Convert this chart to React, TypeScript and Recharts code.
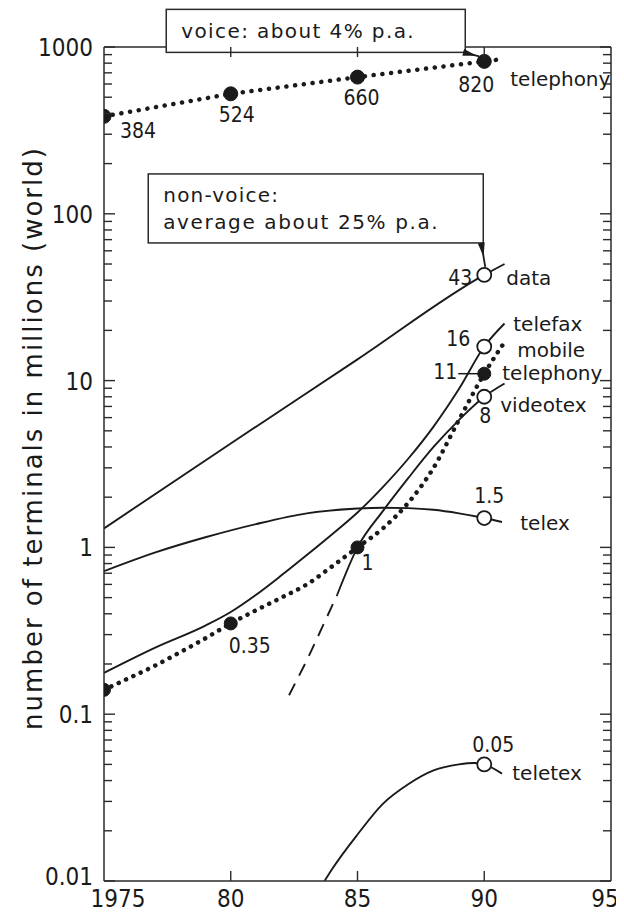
import React from 'react';
import { LineChart, Line, XAxis, YAxis, ReferenceDot } from 'recharts';

// ---------- data (year, millions of terminals) ----------
const voiceTelephonyCurve = [[1975, 384], [1980, 524], [1985, 660], [1990, 820], [1990.8, 850]];
const voiceTelephonyPoints = [[1975, 384], [1980, 524], [1985, 660], [1990, 820]];
const dataCurve = [[1975, 1.3], [1980, 4.2], [1985, 13.4], [1990, 43], [1990.8, 50]];
const telefaxCurve = [[1975, 0.177], [1977, 0.25], [1979, 0.34], [1980, 0.41], [1981, 0.52], [1982, 0.68], [1983, 0.9], [1984, 1.2], [1985, 1.62], [1986, 2.3], [1987, 3.4], [1988, 5.3], [1989, 8.9], [1990, 16], [1990.8, 22]];
const mobileCurve = [[1975, 0.14], [1976, 0.165], [1977, 0.195], [1978, 0.235], [1979, 0.285], [1980, 0.35], [1981, 0.42], [1982, 0.5], [1983, 0.6], [1984, 0.77], [1985, 1], [1986, 1.3], [1987, 1.85], [1988, 3.0], [1989, 5.8], [1990, 11], [1990.8, 17]];
const mobilePoints = [[1975, 0.14], [1980, 0.35], [1985, 1], [1990, 11]];
const videotexEarly = [[1982.3, 0.13], [1983, 0.21], [1983.6, 0.33], [1984.2, 0.52]];
const videotexCurve = [[1984.2, 0.52], [1985, 1], [1986, 1.65], [1987, 2.6], [1988, 4.0], [1989, 5.8], [1990, 8], [1990.8, 9.6]];
const telexCurve = [[1975, 0.72], [1977, 0.93], [1979, 1.15], [1981, 1.38], [1983, 1.6], [1985, 1.71], [1986, 1.73], [1987, 1.72], [1988, 1.68], [1989, 1.6], [1990, 1.5], [1990.7, 1.42]];
const teletexCurve = [[1983.7, 0.01], [1984, 0.0118], [1985, 0.019], [1986, 0.029], [1987, 0.038], [1988, 0.046], [1989, 0.05], [1989.6, 0.051], [1990, 0.05], [1990.7, 0.044]];
const nonVoiceEndpoints = [[1990, 43], [1990, 16], [1990, 8], [1990, 1.5], [1990, 0.05]];

const xTicks = [1975, 1980, 1985, 1990, 1995];
const xTickLabels = ['1975', '80', '85', '90', '95'];
const yDecades = [0.01, 0.1, 1, 10, 100, 1000];
const yDecadeLabels = ['0.01', '0.1', '1', '10', '100', '1000'];
const yMinorSteps = [2, 3, 4, 5, 6, 7, 8, 9];

const yTitle = 'number of terminals in millions (world)';
const voiceBoxText = ['voice: about 4% p.a.'];
const nonVoiceBoxText = ['non-voice:', 'average about 25% p.a.'];

const annotations = [
  { key: 'v384', x: 1975, y: 384, text: '384' },
  { key: 'v524', x: 1980, y: 524, text: '524' },
  { key: 'v660', x: 1985, y: 660, text: '660' },
  { key: 'v820', x: 1990, y: 820, text: '820' },
  { key: 'vTel', x: 1990, y: 820, text: 'telephony' },
  { key: 'd43', x: 1990, y: 43, text: '43' },
  { key: 'dName', x: 1990, y: 43, text: 'data' },
  { key: 'f16', x: 1990, y: 16, text: '16' },
  { key: 'fName', x: 1990, y: 16, text: 'telefax' },
  { key: 'mName', x: 1990, y: 16, text: 'mobile' },
  { key: 'm11', x: 1990, y: 11, text: '11' },
  { key: 'mTel', x: 1990, y: 11, text: 'telephony' },
  { key: 'vt8', x: 1990, y: 8, text: '8' },
  { key: 'vtName', x: 1990, y: 8, text: 'videotex' },
  { key: 'tx15', x: 1990, y: 1.5, text: '1.5' },
  { key: 'txName', x: 1990, y: 1.5, text: 'telex' },
  { key: 'm1', x: 1985, y: 1, text: '1' },
  { key: 'm035', x: 1980, y: 0.35, text: '0.35' },
  { key: 'tt005', x: 1990, y: 0.05, text: '0.05' },
  { key: 'ttName', x: 1990, y: 0.05, text: 'teletex' },
];

// ---------- styling / layout ----------
const INK = '#1a1a1a';
const AXIS = '#2a2a2a';
const FONT_NUM = "'DejaVu Sans Condensed', 'DejaVu Sans', sans-serif";
const FONT_TXT = "'DejaVu Sans', sans-serif";

type Lay = { dx: number; dy: number; anchor: 'start' | 'middle' | 'end'; num?: boolean; leader?: [number, number] };
const labelLayout: Record<string, Lay> = {
  v384: { dx: 16, dy: 22, anchor: 'start', num: true },
  v524: { dx: 6, dy: 28, anchor: 'middle', num: true },
  v660: { dx: 4, dy: 28, anchor: 'middle', num: true },
  v820: { dx: -8, dy: 31, anchor: 'middle', num: true },
  vTel: { dx: 26, dy: 25, anchor: 'start' },
  d43: { dx: -12, dy: 10, anchor: 'end', num: true },
  dName: { dx: 22, dy: 10, anchor: 'start' },
  f16: { dx: -14, dy: -1, anchor: 'end', num: true },
  fName: { dx: 29, dy: -16, anchor: 'start' },
  mName: { dx: 33, dy: 10, anchor: 'start' },
  m11: { dx: -27, dy: 5, anchor: 'end', num: true, leader: [-26, -6] },
  mTel: { dx: 18, dy: 6, anchor: 'start' },
  vt8: { dx: 1, dy: 26, anchor: 'middle', num: true },
  vtName: { dx: 16, dy: 15, anchor: 'start' },
  tx15: { dx: 5, dy: -15, anchor: 'middle', num: true },
  txName: { dx: 36, dy: 12, anchor: 'start' },
  m1: { dx: 10, dy: 23, anchor: 'middle', num: true },
  m035: { dx: 19, dy: 30, anchor: 'middle', num: true },
  tt005: { dx: 9, dy: -12, anchor: 'middle', num: true },
  ttName: { dx: 28, dy: 16, anchor: 'start' },
};

const rows = (pairs: number[][]) => pairs.map(([x, y]) => ({ x, y }));
const yTicks: number[] = [];
yDecades.forEach((d, i) => {
  yTicks.push(d);
  if (i < yDecades.length - 1) yMinorSteps.forEach((m) => yTicks.push(+(d * m).toPrecision(6)));
});

const LeftTick = (props: any) => {
  const { x, y, payload } = props;
  const idx = yDecades.indexOf(payload.value);
  const major = idx >= 0;
  return (
    <g>
      <line x1={x} y1={y} x2={x + (major ? 11 : 8)} y2={y} stroke={AXIS} strokeWidth={1.4} />
      {major && (
        <text x={x - 11} y={y + (payload.value === 0.01 ? 4 : 9)} textAnchor="end" fontFamily={FONT_NUM} fontSize={24} fill={INK}>
          {yDecadeLabels[idx]}
        </text>
      )}
    </g>
  );
};

const RightTick = (props: any) => {
  const { x, y, payload } = props;
  const major = yDecades.indexOf(payload.value) >= 0;
  return <line x1={x} y1={y} x2={x - (major ? 11 : 8)} y2={y} stroke={AXIS} strokeWidth={1.4} />;
};

const BottomTick = (props: any) => {
  const { x, y, payload } = props;
  const i = xTicks.indexOf(payload.value);
  const inner = i > 0 && i < xTicks.length - 1;
  const dx = i === 0 ? 14 : i === xTicks.length - 1 ? -6 : 0;
  return (
    <g>
      {inner && <line x1={x} y1={y} x2={x} y2={y - 10} stroke={AXIS} strokeWidth={1.4} />}
      <text x={x + dx} y={y + 26} textAnchor="middle" fontFamily={FONT_NUM} fontSize={24} fill={INK}>
        {xTickLabels[i]}
      </text>
    </g>
  );
};

const TopTick = (props: any) => {
  const { x, y } = props;
  return <line x1={x} y1={y} x2={x} y2={y + 10} stroke={AXIS} strokeWidth={1.4} />;
};

const YTitle = () => (
  <text transform="translate(34, 430) rotate(-90)" textAnchor="middle" fontFamily={FONT_TXT} fontSize={26} letterSpacing={2} fill={INK}>
    {yTitle}
  </text>
);

const Wedge = ({ x1, y1, x2, y2 }: { x1: number; y1: number; x2: number; y2: number }) => {
  const len = Math.hypot(x2 - x1, y2 - y1) || 1;
  const ux = (x2 - x1) / len;
  const uy = (y2 - y1) / len;
  const px = -uy * 3.5;
  const py = ux * 3.5;
  return (
    <g>
      <line x1={x1} y1={y1} x2={x2} y2={y2} stroke={INK} strokeWidth={1.8} />
      <polygon points={`${x1 + px},${y1 + py} ${x1 - px},${y1 - py} ${x1 + ux * 14},${y1 + uy * 14}`} fill={INK} />
    </g>
  );
};

const VoiceBox = (p: any) => {
  const { cx, cy } = p;
  const left = cx - 318, right = cx - 19, top = cy - 52, bottom = cy - 9;
  return (
    <g>
      <rect x={left} y={top} width={right - left} height={bottom - top} fill="#fff" stroke={AXIS} strokeWidth={1.5} />
      <text x={left + 15} y={cy - 23} fontFamily={FONT_TXT} fontSize={20} letterSpacing={1.4} fill={INK}>{voiceBoxText[0]}</text>
      <Wedge x1={right - 2} y1={bottom} x2={cx - 5} y2={cy - 5} />
    </g>
  );
};

const NonVoiceBox = (p: any) => {
  const { cx, cy } = p;
  const left = cx - 336, right = cx - 1, top = cy - 101, bottom = cy - 32;
  return (
    <g>
      <rect x={left} y={top} width={right - left} height={bottom - top} fill="#fff" stroke={AXIS} strokeWidth={1.5} />
      <text x={left + 15} y={cy - 73} fontFamily={FONT_TXT} fontSize={20} letterSpacing={1.2} fill={INK}>{nonVoiceBoxText[0]}</text>
      <text x={left + 15} y={cy - 46} fontFamily={FONT_TXT} fontSize={20} letterSpacing={1.6} fill={INK}>{nonVoiceBoxText[1]}</text>
      <Wedge x1={cx - 3} y1={bottom} x2={cx + 1} y2={cy - 8} />
    </g>
  );
};

const solid = { stroke: INK, strokeWidth: 1.9, dot: false, activeDot: false, isAnimationActive: false, type: 'monotone' as const };

export default function App() {
  return (
    <div style={{ width: 616, height: 906, background: '#fff' }}>
      <LineChart width={616} height={906} margin={{ top: 38, right: 0, bottom: 0, left: 0 }}>
        <XAxis xAxisId="bottom" type="number" dataKey="x" domain={[1975, 1995]} allowDataOverflow ticks={xTicks} interval={0}
          height={33} tickSize={0} tickMargin={0} tickLine={false} tick={<BottomTick />} axisLine={{ stroke: AXIS, strokeWidth: 1.5 }} />
        <XAxis xAxisId="top" orientation="top" type="number" dataKey="x" domain={[1975, 1995]} allowDataOverflow ticks={[1980, 1985, 1990]} interval={0}
          height={1} tickSize={0} tickMargin={0} tickLine={false} tick={<TopTick />} axisLine={{ stroke: AXIS, strokeWidth: 1.5 }} />
        <YAxis yAxisId="left" type="number" scale="log" domain={[0.01, 1000]} allowDataOverflow ticks={yTicks} interval={0}
          width={96} tickSize={0} tickMargin={0} tickLine={false} tick={<LeftTick />} axisLine={{ stroke: AXIS, strokeWidth: 1.5 }} label={<YTitle />} />
        <YAxis yAxisId="right" orientation="right" type="number" scale="log" domain={[0.01, 1000]} allowDataOverflow ticks={yTicks} interval={0}
          width={13} tickSize={0} tickMargin={0} tickLine={false} tick={<RightTick />} axisLine={{ stroke: AXIS, strokeWidth: 1.5 }} />

        <Line {...solid} data={rows(dataCurve)} dataKey="y" xAxisId="bottom" yAxisId="left" />
        <Line {...solid} data={rows(telefaxCurve)} dataKey="y" xAxisId="bottom" yAxisId="left" />
        <Line {...solid} data={rows(videotexEarly)} dataKey="y" xAxisId="bottom" yAxisId="left" type="linear" strokeDasharray="13 9" />
        <Line {...solid} data={rows(videotexCurve)} dataKey="y" xAxisId="bottom" yAxisId="left" />
        <Line {...solid} data={rows(telexCurve)} dataKey="y" xAxisId="bottom" yAxisId="left" />
        <Line {...solid} data={rows(teletexCurve)} dataKey="y" xAxisId="bottom" yAxisId="left" />
        <Line data={rows(voiceTelephonyCurve)} dataKey="y" xAxisId="bottom" yAxisId="left" type="linear" stroke={INK}
          strokeWidth={4.5} strokeDasharray="0.1 8.7" strokeLinecap="round" dot={false} activeDot={false} isAnimationActive={false} />
        <Line data={rows(mobileCurve)} dataKey="y" xAxisId="bottom" yAxisId="left" type="monotone" stroke={INK}
          strokeWidth={4.5} strokeDasharray="0.1 8" strokeLinecap="round" dot={false} activeDot={false} isAnimationActive={false} />

        <Line data={rows(nonVoiceEndpoints)} dataKey="y" xAxisId="bottom" yAxisId="left" stroke="none" activeDot={false}
          dot={{ r: 7, fill: '#fff', stroke: INK, strokeWidth: 1.8 }} isAnimationActive={false} />
        <Line data={rows(voiceTelephonyPoints)} dataKey="y" xAxisId="bottom" yAxisId="left" stroke="none" activeDot={false}
          dot={{ r: 7, fill: INK, stroke: INK, strokeWidth: 1 }} isAnimationActive={false} />
        <Line data={rows(mobilePoints)} dataKey="y" xAxisId="bottom" yAxisId="left" stroke="none" activeDot={false}
          dot={{ r: 6.5, fill: INK, stroke: INK, strokeWidth: 1 }} isAnimationActive={false} />

        <ReferenceDot xAxisId="bottom" yAxisId="left" x={1990} y={820} r={0} ifOverflow="visible" shape={VoiceBox} />
        <ReferenceDot xAxisId="bottom" yAxisId="left" x={1990} y={43} r={0} ifOverflow="visible" shape={NonVoiceBox} />
        {annotations.map((a) => {
          const L = labelLayout[a.key];
          return (
            <ReferenceDot key={a.key} xAxisId="bottom" yAxisId="left" x={a.x} y={a.y} r={0} ifOverflow="visible"
              shape={(p: any) => (
                <g>
                  {L.leader && <line x1={p.cx + L.leader[0]} y1={p.cy} x2={p.cx + L.leader[1]} y2={p.cy} stroke={INK} strokeWidth={1.5} />}
                  <text x={p.cx + L.dx} y={p.cy + L.dy} textAnchor={L.anchor} fontFamily={L.num ? FONT_NUM : FONT_TXT}
                    fontSize={L.num ? 21 : 20} fill={INK}>{a.text}</text>
                </g>
              )} />
          );
        })}
      </LineChart>
    </div>
  );
}
